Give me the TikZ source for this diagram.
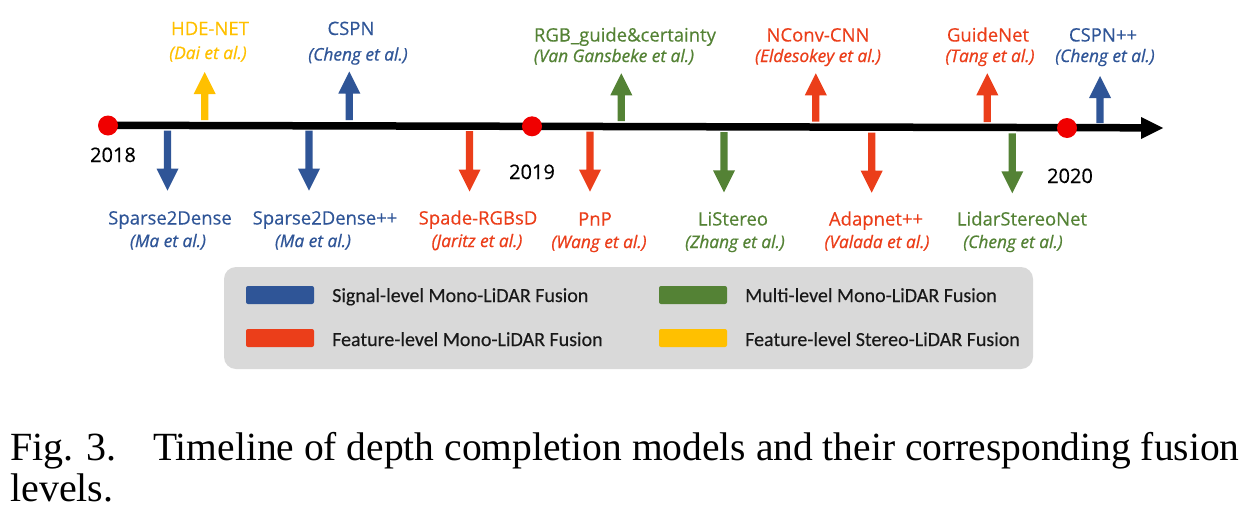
\documentclass[tikz,border=0pt]{standalone}
\usepackage{fontspec}
\setmainfont{Liberation Serif}
\newfontfamily\labfont{Open Sans}[FakeBold=0.4]
\newfontfamily\subfont{Open Sans}[FakeBold=0.9]
\newfontfamily\legfont{Carlito}[FakeBold=0.3]
\definecolor{cblue}{RGB}{47,85,151}
\definecolor{cred}{RGB}{235,62,26}
\definecolor{cgreen}{RGB}{84,130,53}
\definecolor{cyellow}{RGB}{255,192,0}
\definecolor{cgray}{RGB}{217,217,217}
\definecolor{cdot}{RGB}{240,0,0}
% block arrows: colour, x, start y (on the line), tip y
\newcommand\TLup[4]{\fill[#1] ({#2-3.6},#3) -- ({#2-3.6},{#4+22}) -- ({#2-11},{#4+22}) -- (#2,#4) -- ({#2+11},{#4+22}) -- ({#2+3.6},{#4+22}) -- ({#2+3.6},#3) -- cycle;}
\newcommand\TLdown[4]{\fill[#1] ({#2-3.6},#3) -- ({#2-3.6},{#4-22}) -- ({#2-11},{#4-22}) -- (#2,#4) -- ({#2+11},{#4-22}) -- ({#2+3.6},{#4-22}) -- ({#2+3.6},#3) -- cycle;}
\begin{document}
\begin{tikzpicture}[x=1pt,y=-1pt,
  title/.style={font=\labfont\fontsize{18.5}{20}\selectfont, anchor=base, inner sep=0pt},
  sub/.style={font=\subfont\itshape\fontsize{17.3}{19}\selectfont, anchor=base, inner sep=0pt},
  year/.style={font=\labfont\fontsize{20}{22}\selectfont, anchor=base, inner sep=0pt, text=black},
  legtext/.style={font=\legfont\fontsize{20}{22}\selectfont, anchor=base west, inner sep=0pt, text=black!90},
  swatch/.style={rounded corners=2pt},
  dot/.style={circle, fill=cdot, minimum size=20pt, inner sep=0pt},
  capt/.style={font=\fontsize{40}{44}\selectfont, anchor=base west, inner sep=0pt}
]
\useasboundingbox (0,0) rectangle (1245,509);

% timeline
\coordinate (tstart) at (108,125.3);
\coordinate (tend) at (1142,127.8);
\draw[line width=7.5pt, black] (tstart) -- (tend);
\fill[black] (1141,117) -- (1163,128) -- (1141,139) -- cycle;
\node[dot] (y18) at (108,125.5) {};
\node[dot] (y19) at (532,126.3) {};
\node[dot] (y20) at (1067,128) {};
\node[year] (l18) at (113,162) {2018};
\node[year] (l19) at (532,179) {2019};
\node[year] (l20) at (1070,183) {2020};

% up arrows
\TLup{cyellow}{204.7}{120}{72}
\TLup{cblue}{349.3}{120}{71.5}
\TLup{cgreen}{621.3}{121}{73.3}
\TLup{cred}{815.8}{121.5}{73.3}
\TLup{cred}{987.3}{122}{73.3}
\TLup{cblue}{1100}{123}{76}

% down arrows
\TLdown{cblue}{167.5}{130.5}{190.7}
\TLdown{cblue}{309}{130.7}{190.7}
\TLdown{cred}{469.5}{131}{191.5}
\TLdown{cred}{590}{131.7}{191.7}
\TLdown{cgreen}{724}{132}{192.3}
\TLdown{cred}{871.7}{132.7}{192.7}
\TLdown{cgreen}{1012.3}{133.3}{193.3}

% labels above
\node[title, text=cyellow] (hde) at (210,35) {HDE-NET};
\node[sub, text=cyellow] (hdes) at (208,59) {(Dai et al.)};
\node[title, text=cblue] (cspn) at (351,35) {CSPN};
\node[sub, text=cblue] (cspns) at (358,60.5) {(Cheng et al.)};
\node[title, text=cgreen] (rgb) at (625,41.5) {RGB\_guide\&certainty};
\node[sub, text=cgreen] (rgbs) at (614,62) {(Van Gansbeke et al.)};
\node[title, text=cred] (ncv) at (818,41.5) {NConv-CNN};
\node[sub, text=cred] (ncvs) at (818,62) {(Eldesokey et al.)};
\node[title, text=cred] (gn) at (988,41.5) {GuideNet};
\node[sub, text=cred] (gns) at (990,62) {(Tang et al.)};
\node[title, text=cblue] (cspp) at (1103,41.5) {CSPN++};
\node[sub, text=cblue] (cspps) at (1105,62) {(Cheng et al.)};

% labels below
\node[title, text=cblue] (s2d) at (170,224.5) {Sparse2Dense};
\node[sub, text=cblue] (s2ds) at (168,247) {(Ma et al.)};
\node[title, text=cblue] (s2dp) at (325,224.5) {Sparse2Dense++};
\node[sub, text=cblue] (s2dps) at (313,247) {(Ma et al.)};
\node[title, text=cred] (spd) at (478,224.5) {Spade-RGBsD};
\node[sub, text=cred] (spds) at (477,247) {(Jaritz et al.)};
\node[title, text=cred] (pnp) at (595,225.5) {PnP};
\node[sub, text=cred] (pnps) at (599,248) {(Wang et al.)};
\node[title, text=cgreen] (lis) at (733,225.5) {LiStereo};
\node[sub, text=cgreen] (liss) at (735,248) {(Zhang et al.)};
\node[title, text=cred] (ada) at (876,225.5) {Adapnet++};
\node[sub, text=cred] (adas) at (877,248) {(Valada et al.)};
\node[title, text=cgreen] (lsn) at (1022,225.5) {LidarStereoNet};
\node[sub, text=cgreen] (lsns) at (1013,248) {(Cheng et al.)};

% legend
\fill[cgray, rounded corners=12pt] (224,267) rectangle (1033,369);
\fill[cblue, swatch] (246,286) rectangle (314,304);
\fill[cred, swatch] (246,329) rectangle (314,347);
\fill[cgreen, swatch] (659,286) rectangle (727,304);
\fill[cyellow, swatch] (659,329) rectangle (727,347);
\node[legtext] (lg1) at (332,302) {Signal-level Mono-LiDAR Fusion};
\node[legtext] (lg2) at (332,346) {Feature-level Mono-LiDAR Fusion};
\node[legtext] (lg3) at (745,302) {Multi-level Mono-LiDAR Fusion};
\node[legtext] (lg4) at (745,346) {Feature-level Stereo-LiDAR Fusion};

% caption
\node[capt] (fig) at (10,460) {Fig. 3.};
\node[capt] (capl1) at (153,460) {\scalebox{0.987}[1]{Timeline of depth completion models and their corresponding fusion}};
\node[capt] (capl2) at (10,501) {levels.};
\end{tikzpicture}
\end{document}
